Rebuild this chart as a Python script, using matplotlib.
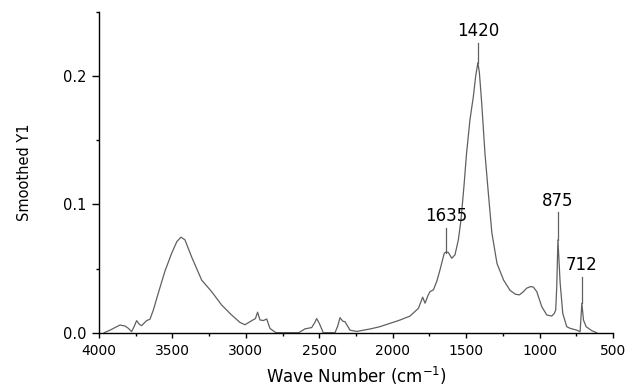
import matplotlib
matplotlib.use('Agg')
import matplotlib.pyplot as plt
from matplotlib.ticker import MultipleLocator, FormatStrFormatter

# FTIR spectrum
wavenumber = [3965, 3925, 3891, 3857, 3823, 3800, 3778, 3760, 3744, 3725,
              3710, 3676, 3653, 3630, 3596, 3551, 3505, 3470, 3442, 3415,
              3369, 3301, 3233, 3165, 3097, 3040, 3006, 2960, 2935, 2920,
              2904, 2880, 2858, 2836, 2802, 2790, 2640, 2597, 2552, 2530,
              2518, 2500, 2473, 2393, 2375, 2359, 2340, 2325, 2291, 2245,
              2150, 2087, 1973, 1950, 1882, 1825, 1796, 1780, 1760, 1746,
              1723, 1700, 1678, 1649, 1635, 1621, 1598, 1576, 1553, 1535,
              1515, 1497, 1474, 1451, 1435, 1420, 1410, 1394, 1372, 1349,
              1325, 1290, 1245, 1201, 1165, 1137, 1110, 1088, 1060, 1042,
              1019, 985, 951, 917, 900, 890, 883, 875, 860, 842,
              815, 792, 747, 724, 712, 701, 683, 645, 611]
absorb = [0.000, 0.002, 0.004, 0.006, 0.0052, 0.0034, 0.0008, 0.005, 0.0094, 0.0065,
          0.0055, 0.0094, 0.0105, 0.0177, 0.031, 0.048, 0.062, 0.071, 0.0745, 0.0724,
          0.059, 0.041, 0.032, 0.0216, 0.0138, 0.008, 0.0062, 0.0094, 0.011, 0.016,
          0.0099, 0.0095, 0.0107, 0.0034, 0.0005, 0.0, 0.0, 0.003, 0.004, 0.008,
          0.011, 0.0073, 0.0, 0.0, 0.005, 0.0117, 0.009, 0.0086, 0.002, 0.001,
          0.003, 0.0047, 0.009, 0.0099, 0.013, 0.019, 0.0277, 0.023, 0.029, 0.032,
          0.0334, 0.040, 0.049, 0.062, 0.063, 0.0625, 0.058, 0.0607, 0.0724, 0.088,
          0.114, 0.140, 0.166, 0.184, 0.200, 0.2105, 0.203, 0.179, 0.140, 0.109,
          0.078, 0.054, 0.041, 0.033, 0.030, 0.0295, 0.032, 0.0347, 0.036, 0.0355,
          0.032, 0.0203, 0.0138, 0.013, 0.015, 0.0177, 0.036, 0.0724, 0.039, 0.015,
          0.0047, 0.0034, 0.002, 0.0008, 0.023, 0.0099, 0.0047, 0.0016, 0.0]

# labelled peaks: position, curve top, top of marker line
peak_pos = [1420, 1635, 875, 712]
peak_val = [0.2105, 0.062, 0.0724, 0.023]
peak_top = [0.2262, 0.0816, 0.0938, 0.0433]

fig = plt.figure(figsize=(6.4, 3.91), dpi=100)
ax = fig.add_axes([0.1547, 0.1491, 0.8031, 0.8202])

ax.plot(wavenumber, absorb, color='#606060', lw=0.9)

for p, v, t in zip(peak_pos, peak_val, peak_top):
    ax.plot([p, p], [v, t], color='#606060', lw=0.9)
    ax.annotate(str(p), (p, t), xytext=(0, 2), textcoords='offset points',
                ha='center', va='bottom', fontsize=12)

ax.set_xlim(4000, 500)
ax.set_ylim(0, 0.25)
ax.xaxis.set_major_locator(MultipleLocator(500))
ax.xaxis.set_minor_locator(MultipleLocator(250))
ax.yaxis.set_major_locator(MultipleLocator(0.1))
ax.yaxis.set_minor_locator(MultipleLocator(0.05))
ax.yaxis.set_major_formatter(FormatStrFormatter('%.1f'))

for s in ['top', 'right']:
    ax.spines[s].set_visible(False)
for s in ['left', 'bottom']:
    ax.spines[s].set_linewidth(1.0)

ax.tick_params(axis='x', which='major', length=3.6, width=1.0, labelsize=10, pad=4.5)
ax.tick_params(axis='x', which='minor', length=2.5, width=1.0)
ax.tick_params(axis='y', which='major', length=5, width=1.0, labelsize=10.5, pad=4.3)
ax.tick_params(axis='y', which='minor', length=2.4, width=1.0)

ax.set_xlabel('Wave Number (cm$^{-1}$)', fontsize=12)
ax.set_ylabel('Smoothed Y1', fontsize=10.5)
ax.xaxis.set_label_coords(0.5, -0.100)
ax.yaxis.set_label_coords(-0.130, 0.5)

fig.savefig('out.png', dpi=100)
